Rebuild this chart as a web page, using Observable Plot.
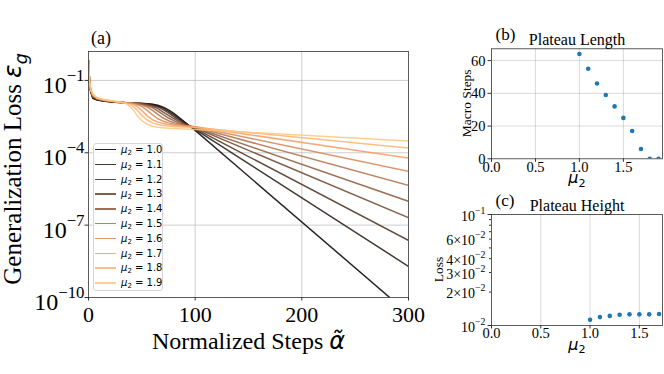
<!DOCTYPE html>
<html><head><meta charset="utf-8">
<script src="https://cdn.jsdelivr.net/npm/d3@7"></script>
<script src="https://cdn.jsdelivr.net/npm/@observablehq/plot@0.6"></script>
<style>
body{margin:0;background:#fff;}
#fig{position:relative;width:664px;height:374px;overflow:hidden;font-family:"Liberation Serif",serif;background:#fff;}
#fig svg{position:absolute;}
</style></head><body><div id="fig"></div>
<script>
// ---------- data ----------
const mu2 = [1.0, 1.1, 1.2, 1.3, 1.4, 1.5, 1.6, 1.7, 1.8, 1.9];
const muLabels = mu2.map(m => m.toFixed(1));
const copper = ["#000000","#23160e","#462c1c","#69432a","#8c5838","#af6f46","#d28554","#f59b63","#ffb171","#ffc77f"];

// panel (a): normalized steps and log10 of generalization loss
const steps = [0, 1, 2, 4, 8, 15, 25, 35, 40, 45, 50, 55, 60, 65, 70, 75, 80, 85, 90, 95, 100, 300];
const logLoss_mu10 = [-0.2,-1.06,-1.45,-1.74,-1.81,-1.86,-1.91,-1.93,-1.94,-1.95,-1.955,-1.965,-1.985,-2.03,-2.11,-2.22,-2.37,-2.54,-2.72,-2.9,-3.07,-10.67];
const logLoss_mu11 = [-0.2,-1.06,-1.44,-1.72,-1.80,-1.855,-1.905,-1.93,-1.94,-1.95,-1.96,-1.97,-2.0,-2.06,-2.15,-2.28,-2.43,-2.59,-2.74,-2.89,-3.03,-8.71];
const logLoss_mu12 = [-0.2,-1.05,-1.43,-1.70,-1.79,-1.85,-1.90,-1.93,-1.94,-1.95,-1.96,-1.98,-2.03,-2.1,-2.21,-2.35,-2.5,-2.64,-2.78,-2.9,-3.0,-7.63];
const logLoss_mu13 = [-0.2,-1.05,-1.42,-1.68,-1.78,-1.84,-1.895,-1.93,-1.94,-1.95,-1.97,-2.0,-2.07,-2.17,-2.31,-2.45,-2.58,-2.7,-2.81,-2.9,-2.97,-6.69];
const logLoss_mu14 = [-0.2,-1.04,-1.41,-1.66,-1.77,-1.835,-1.89,-1.93,-1.935,-1.95,-1.98,-2.04,-2.13,-2.27,-2.42,-2.56,-2.67,-2.76,-2.84,-2.9,-2.95,-6.01];
const logLoss_mu15 = [-0.2,-1.04,-1.40,-1.64,-1.76,-1.83,-1.885,-1.93,-1.935,-1.96,-2.01,-2.1,-2.24,-2.41,-2.56,-2.67,-2.75,-2.81,-2.86,-2.9,-2.93,-5.35];
const logLoss_mu16 = [-0.2,-1.03,-1.39,-1.62,-1.75,-1.82,-1.88,-1.93,-1.94,-1.99,-2.08,-2.24,-2.43,-2.59,-2.69,-2.76,-2.81,-2.85,-2.88,-2.9,-2.92,-4.77];
const logLoss_mu17 = [-0.2,-1.03,-1.38,-1.60,-1.74,-1.815,-1.875,-1.93,-1.96,-2.06,-2.25,-2.47,-2.63,-2.73,-2.79,-2.83,-2.86,-2.88,-2.9,-2.91,-2.92,-4.22];
const logLoss_mu18 = [-0.2,-1.02,-1.37,-1.58,-1.73,-1.81,-1.87,-1.94,-2.02,-2.2,-2.45,-2.64,-2.76,-2.83,-2.87,-2.89,-2.91,-2.92,-2.93,-2.94,-2.95,-3.80];
const logLoss_mu19 = [-0.2,-1.02,-1.36,-1.56,-1.72,-1.80,-1.865,-1.96,-2.12,-2.42,-2.67,-2.82,-2.9,-2.94,-2.96,-2.98,-2.99,-3.0,-3.01,-3.02,-3.03,-3.51];
const xTicksA = [0, 100, 200, 300];
const yTicksA = [1e-10, 1e-7, 1e-4, 1e-1];
const yTickLabelsA = ["10^{−10}", "10^{−7}", "10^{−4}", "10^{−1}"];

// panel (b)
const plateauLength = [64, 55, 46, 39, 32, 25, 17, 6, 0, 0];
const xTicksBC = [0, 0.5, 1.0, 1.5];
const yTicksB = [0, 20, 40, 60];

// panel (c)
const muHeight = [1.0, 1.1, 1.2, 1.3, 1.4, 1.5, 1.6, 1.7];
const plateauHeight = [0.01125, 0.0119, 0.0122, 0.0125, 0.0126, 0.0126, 0.0126, 0.0127];
const yTicksC = [0.01, 0.02, 0.03, 0.04, 0.06, 0.1];
const yTickLabelsC = ["10^{−2}", "2×10^{−2}", "3×10^{−2}", "4×10^{−2}", "6×10^{−2}", "10^{−1}"];
const yMinorC = [0.05, 0.07, 0.08, 0.09];

// ---------- helpers ----------
const series = [logLoss_mu10, logLoss_mu11, logLoss_mu12, logLoss_mu13, logLoss_mu14,
                logLoss_mu15, logLoss_mu16, logLoss_mu17, logLoss_mu18, logLoss_mu19];
const lossTable = series.flatMap((vals, i) => steps.map((s, j) => ({step: s, loss: 10 ** vals[j], mu: muLabels[i]})));
const tableB = mu2.map((m, i) => ({mu: m, len: plateauLength[i]}));
const tableC = muHeight.map((m, i) => ({mu: m, h: plateauHeight[i]}));

const fig = document.getElementById("fig");
const baseStyle = {fontFamily: '"Liberation Serif", serif', background: "transparent", overflow: "visible", color: "#000"};
const AX = "#333";

// rotated axis titles: anchor (baseline centre) within each svg
const rotPos = {
  "Generalization Loss $ε_g$": [21, 169],
  "Macro Steps": [41, 103.3],
  "Loss": [13, 79.5]
};

function rich(svg) {
  svg.querySelectorAll("g.rich text, g.richrot text").forEach(t => {
    const s = t.textContent;
    const base = parseFloat(getComputedStyle(t).fontSize);
    t.setAttribute("y", "0");
    if (t.closest("g.richrot")) {
      const [px, py] = rotPos[s];
      t.parentNode.removeAttribute("transform");
      t.removeAttribute("x");
      t.removeAttribute("dx");
      t.removeAttribute("dy");
      t.setAttribute("text-anchor", "middle");
      t.setAttribute("transform", `translate(${px},${py}) rotate(-90)`);
    }
    while (t.firstChild) t.removeChild(t.firstChild);
    const runs = [];
    let math = false, prevIt = false;
    const push = (ch, shift) => {
      const it = math && (/\p{L}/u.test(ch) || (/\p{M}/u.test(ch) && prevIt));
      prevIt = it;
      const last = runs[runs.length - 1];
      if (last && last.shift === shift && last.it === it && last.math === math) last.t += ch;
      else runs.push({t: ch, shift, it, math});
    };
    for (let i = 0; i < s.length; i++) {
      const c = s[i];
      if (c === "$") { math = !math; continue; }
      if (c === "^" || c === "_") {
        const sh = c === "^" ? 1 : -1;
        let g;
        if (s[i + 1] === "{") { const j = s.indexOf("}", i); g = s.slice(i + 2, j); i = j; }
        else { g = s[i + 1]; i++; }
        for (const ch of g) push(ch, sh);
        continue;
      }
      push(c, 0);
    }
    let cur = 0;
    for (const r of runs) {
      const off = r.shift === 1 ? -0.5 * base : r.shift === -1 ? 0.22 * base : 0;
      const ts = document.createElementNS("http://www.w3.org/2000/svg", "tspan");
      if (off !== cur) ts.setAttribute("dy", off - cur);
      cur = off;
      if (r.shift) ts.setAttribute("font-size", 0.7 * base);
      if (r.math) ts.setAttribute("font-family", "DejaVu Sans");
      if (r.it) ts.setAttribute("font-style", "italic");
      ts.textContent = r.t;
      t.appendChild(ts);
    }
  });
}
function place(svg, left, top) {
  svg.style.left = left + "px";
  svg.style.top = top + "px";
  fig.appendChild(svg);
  rich(svg);
}

// ---------- panel (a) ----------
const plotA = Plot.plot({
  width: 430, height: 374,
  marginLeft: 88, marginRight: 22, marginTop: 51, marginBottom: 77,
  x: {domain: [0, 300]},
  y: {type: "log", domain: [1e-10, 1.58]},
  color: {domain: muLabels, range: copper},
  style: baseStyle,
  marks: [
    Plot.gridX([100, 200], {stroke: "#b0b0b0", strokeOpacity: 0.8, strokeWidth: 0.8}),
    Plot.gridY([1e-1, 1e-4, 1e-7], {stroke: "#b0b0b0", strokeOpacity: 0.8, strokeWidth: 0.8}),
    Plot.line(lossTable, {x: "step", y: "loss", z: "mu", stroke: "mu", strokeWidth: 1.5, strokeOpacity: 0.85, clip: true}),
    Plot.frame({stroke: AX, strokeWidth: 0.8}),
    Plot.axisX(xTicksA, {tickSize: 3.5, tickFormat: () => "", label: null, stroke: AX}),
    Plot.axisY(yTicksA, {tickSize: 3.5, tickFormat: () => "", label: null, stroke: AX}),
    Plot.text(xTicksA, {x: d => d, text: d => String(d), frameAnchor: "bottom", dy: 24.5, fontSize: 22, fill: "#000", className: "rich"}),
    Plot.text(yTicksA, {y: d => d, text: (d, i) => yTickLabelsA[i], frameAnchor: "left", dx: -4, dy: 12.5, textAnchor: "end", fontSize: 24, fill: "#000", className: "rich"}),
    Plot.text(["Normalized Steps $α̃$"], {frameAnchor: "bottom", dy: 51, fontSize: 24, fill: "#000", className: "rich"}),
    Plot.text(["Generalization Loss $ε_g$"], {frameAnchor: "left", fontSize: 25, fill: "#000", className: "richrot"}),
    Plot.text(["(a)"], {frameAnchor: "top-left", dx: 2.5, dy: -8, textAnchor: "start", fontSize: 18, fill: "#000", className: "rich"})
  ]
});
place(plotA, 0, 0);

// legend inside panel (a)
const leg = document.createElement("div");
leg.style.cssText = "position:absolute;left:92.5px;top:142.5px;width:70px;height:148.5px;border:1px solid #d6d6d6;border-radius:3px;background:rgba(255,255,255,0.8);box-sizing:border-box;font-family:'DejaVu Sans',sans-serif;";
muLabels.forEach((m, i) => {
  const cy = 6.2 + 14.8 * i;
  const sw = document.createElement("div");
  sw.style.cssText = `position:absolute;left:1.5px;top:${cy - 0.75}px;width:20.6px;height:1.5px;background:${copper[i]};opacity:0.85;`;
  leg.appendChild(sw);
  const lab = document.createElement("div");
  lab.style.cssText = `position:absolute;left:27.5px;top:${cy - 6.8}px;font-size:10px;line-height:13px;white-space:nowrap;color:#000;`;
  lab.innerHTML = `<i>μ</i><span style="font-size:70%;position:relative;top:2px">2</span> = ${m}`;
  leg.appendChild(lab);
});
fig.appendChild(leg);

// ---------- panel (b) ----------
const plotB = Plot.plot({
  width: 234, height: 190,
  marginLeft: 61, marginRight: 2, marginTop: 48.3, marginBottom: 31.7,
  x: {domain: [0, 1.945]},
  y: {domain: [0, 67.2]},
  style: baseStyle,
  marks: [
    Plot.gridX([0.5, 1.0, 1.5], {stroke: "#b0b0b0", strokeOpacity: 0.6, strokeWidth: 0.8}),
    Plot.gridY([20, 40, 60], {stroke: "#b0b0b0", strokeOpacity: 0.6, strokeWidth: 0.8}),
    Plot.dot(tableB, {x: "mu", y: "len", r: 2.3, fill: "#1f77b4", stroke: null, clip: true}),
    Plot.frame({stroke: AX, strokeWidth: 0.8}),
    Plot.axisX(xTicksBC, {tickSize: 3.5, tickFormat: () => "", label: null, stroke: AX}),
    Plot.axisY(yTicksB, {tickSize: 3.5, tickFormat: () => "", label: null, stroke: AX}),
    Plot.text(xTicksBC, {x: d => d, text: d => d.toFixed(1), frameAnchor: "bottom", dy: 13.4, fontSize: 14.5, fill: "#000", className: "rich"}),
    Plot.text(yTicksB, {y: d => d, text: d => String(d), frameAnchor: "left", dx: -6, dy: 5, textAnchor: "end", fontSize: 14.5, fill: "#000", className: "rich"}),
    Plot.text(["$μ_2$"], {frameAnchor: "bottom", dy: 24.5, fontSize: 16, fill: "#000", className: "rich"}),
    Plot.text(["Macro Steps"], {frameAnchor: "left", fontSize: 13.5, fill: "#000", className: "richrot"}),
    Plot.text(["Plateau Length"], {frameAnchor: "top", dy: -3.5, fontSize: 16, fill: "#000", className: "rich"}),
    Plot.text(["(b)"], {frameAnchor: "top-left", dx: 4, dy: -9, textAnchor: "start", fontSize: 17, fill: "#000", className: "rich"})
  ]
});
place(plotB, 430, 0);

// ---------- panel (c) ----------
const plotC = Plot.plot({
  width: 234, height: 184,
  marginLeft: 61, marginRight: 2, marginTop: 24, marginBottom: 49,
  x: {domain: [0, 1.735]},
  y: {type: "log", domain: [0.01, 0.1]},
  style: baseStyle,
  marks: [
    Plot.gridX([0.5, 1.0, 1.5], {stroke: "#b0b0b0", strokeOpacity: 0.6, strokeWidth: 0.8}),
    Plot.dot(tableC, {x: "mu", y: "h", r: 2.3, fill: "#1f77b4", stroke: null, clip: true}),
    Plot.frame({stroke: AX, strokeWidth: 0.8}),
    Plot.axisX(xTicksBC, {tickSize: 3.5, tickFormat: () => "", label: null, stroke: AX}),
    Plot.axisY([0.01, 0.1], {tickSize: 3.5, tickFormat: () => "", label: null, stroke: AX}),
    Plot.axisY([0.02, 0.03, 0.04, 0.06].concat(yMinorC), {tickSize: 2, tickFormat: () => "", label: null, stroke: AX}),
    Plot.text(xTicksBC, {x: d => d, text: d => d.toFixed(1), frameAnchor: "bottom", dy: 12.5, fontSize: 14.5, fill: "#000", className: "rich"}),
    Plot.text(yTicksC, {y: d => d, text: (d, i) => yTickLabelsC[i], frameAnchor: "left", dx: -6, dy: 6, textAnchor: "end", fontSize: 14, fill: "#000", className: "rich"}),
    Plot.text(["$μ_2$"], {frameAnchor: "bottom", dy: 24, fontSize: 16, fill: "#000", className: "rich"}),
    Plot.text(["Loss"], {frameAnchor: "left", fontSize: 13.5, fill: "#000", className: "richrot"}),
    Plot.text(["Plateau Height"], {frameAnchor: "top", dy: -4, fontSize: 16, fill: "#000", className: "rich"}),
    Plot.text(["(c)"], {frameAnchor: "top-left", dx: 4, dy: -9, textAnchor: "start", fontSize: 17, fill: "#000", className: "rich"})
  ]
});
place(plotC, 430, 190);
</script>
</body></html>
